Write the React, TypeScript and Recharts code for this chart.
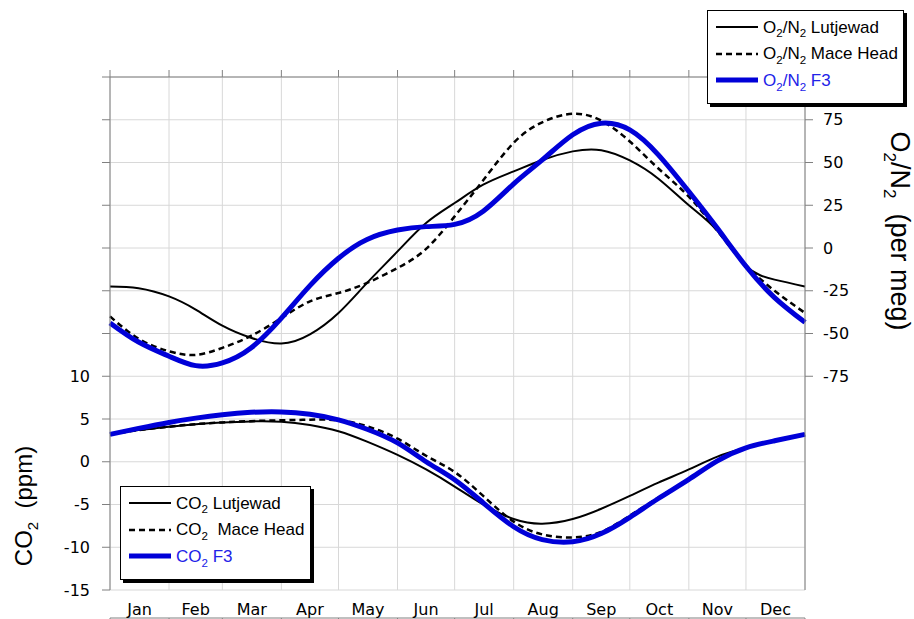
import { LineChart, Line, XAxis, YAxis, CartesianGrid, Legend } from 'recharts';

// day of year for each sample
const days = [0, 15, 31, 45, 59, 74, 90, 105, 120, 135, 151, 166, 181, 196, 212, 227, 243, 258, 273, 288, 304, 319, 334, 349, 365];

// O2/N2 seasonal cycles (per meg)
const o2Lutjewad = [-22.5, -23.5, -28.3, -36, -45.4, -52.5, -55.9, -50.5, -38, -20.4, -2, 14.6, 26.3, 37, 44.8, 51.5, 56.5, 57.2, 51.2, 40.5, 25, 10, -10.5, -18.5, -22.5];
const o2MaceHead = [-40, -53, -60.4, -62.5, -58.4, -51.4, -41, -31.2, -26.3, -20.4, -11.7, -0.5, 18.5, 39.6, 61.5, 73.5, 78.5, 74.5, 62.3, 46.5, 30, 10, -10, -25, -38];
const o2F3 = [-43.8, -55, -63.3, -68.8, -67.2, -58.5, -41, -22, -6, 5, 10.5, 12.5, 13.8, 21.5, 37.5, 51.5, 66.2, 73, 69.1, 54.5, 33, 11.5, -10.7, -29, -43.5];

// CO2 seasonal cycles (ppm)
const co2Lutjewad = [3.2, 3.7, 4.1, 4.4, 4.6, 4.72, 4.68, 4.3, 3.57, 2.35, 0.8, -0.9, -2.9, -5.0, -6.7, -7.25, -6.7, -5.5, -4.0, -2.45, -0.9, 0.6, 1.63, 2.45, 3.2];
const co2MaceHead = [3.2, 3.7, 4.1, 4.4, 4.6, 4.75, 4.85, 4.92, 4.85, 4.15, 2.7, 0.7, -1.2, -4.0, -7.0, -8.5, -8.85, -8.2, -6.3, -4.2, -2.0, 0.1, 1.63, 2.45, 3.2];
const co2F3 = [3.2, 3.9, 4.6, 5.1, 5.5, 5.78, 5.83, 5.55, 4.9, 3.8, 2.2, 0.0, -2.1, -4.8, -7.6, -9.1, -9.35, -8.4, -6.5, -4.3, -2.06, 0.1, 1.63, 2.45, 3.2];

const monthStarts = [0, 31, 59, 90, 120, 151, 181, 212, 243, 273, 304, 334, 365];
const monthNames = ['Jan', 'Feb', 'Mar', 'Apr', 'May', 'Jun', 'Jul', 'Aug', 'Sep', 'Oct', 'Nov', 'Dec'];
const co2Ticks = [-15, -10, -5, 0, 5, 10, 15, 20, 25, 30, 35, 40, 45];
const o2Ticks = [-75, -50, -25, 0, 25, 50, 75];

const monthMids = monthNames.map((_, i) => (monthStarts[i] + monthStarts[i + 1]) / 2);

const data = days.map((day, i) => ({
  day,
  o2Lutjewad: o2Lutjewad[i],
  o2MaceHead: o2MaceHead[i],
  o2F3: o2F3[i],
  co2Lutjewad: co2Lutjewad[i],
  co2MaceHead: co2MaceHead[i],
  co2F3: co2F3[i],
}));

const BLUE = '#0000d8';
const AXIS = '#808080';

const SERIES = [
  { key: 'o2Lutjewad', name: 'O2/N2 Lutjewad', axis: 'o2', color: '#000', width: 2, dash: undefined, text: '#000' },
  { key: 'o2MaceHead', name: 'O2/N2 Mace Head', axis: 'o2', color: '#000', width: 2.5, dash: '6 4', text: '#000' },
  { key: 'o2F3', name: 'O2/N2 F3', axis: 'o2', color: BLUE, width: 5, dash: undefined, text: '#2222e8' },
  { key: 'co2Lutjewad', name: 'CO2 Lutjewad', axis: 'co2', color: '#000', width: 2, dash: undefined, text: '#000' },
  { key: 'co2MaceHead', name: 'CO2  Mace Head', axis: 'co2', color: '#000', width: 2.5, dash: '6 4', text: '#000' },
  { key: 'co2F3', name: 'CO2 F3', axis: 'co2', color: BLUE, width: 5, dash: undefined, text: '#2222e8' },
];

// "O2", "N2", "CO2" -> subscript the 2
function withSubscripts(text: string) {
  const parts: any[] = [];
  for (let i = 0; i < text.length; i++) {
    const c = text[i];
    if (c === '2' && i > 0 && /[A-Z]/.test(text[i - 1])) {
      parts.push(
        <span key={i} style={{ fontSize: '0.68em', position: 'relative', top: '0.4em' }}>2</span>
      );
    } else {
      parts.push(c);
    }
  }
  return parts;
}

function LegendBox({ items, style }: { items: any[]; style: any }) {
  return (
    <div
      style={{
        position: 'absolute',
        background: '#fff',
        border: '1px solid #000',
        boxShadow: '3px 3px 0 #000',
        boxSizing: 'border-box',
        paddingTop: 3,
        fontFamily: '"Liberation Sans", Arial, sans-serif',
        fontSize: 17,
        ...style,
      }}
    >
      {items.map((s) => (
        <div key={s.key} style={{ display: 'flex', alignItems: 'center', height: 26.6 }}>
          <svg width={42} height={8} style={{ marginLeft: 8, marginRight: 5 }}>
            <line x1={0} y1={4} x2={42} y2={4} stroke={s.color} strokeWidth={s.width} strokeDasharray={s.dash} />
          </svg>
          <span style={{ color: s.text, whiteSpace: 'pre', lineHeight: 1 }}>{withSubscripts(s.name)}</span>
        </div>
      ))}
    </div>
  );
}

function Legends({ payload }: any) {
  const names = (payload ?? []).map((p: any) => p.value);
  const shown = SERIES.filter((s) => names.includes(s.name));
  return (
    <>
      <LegendBox items={shown.filter((s) => s.axis === 'o2')} style={{ left: 707, top: 10, width: 197, height: 94 }} />
      <LegendBox items={shown.filter((s) => s.axis === 'co2')} style={{ left: 120, top: 486, width: 191, height: 94 }} />
    </>
  );
}

function Co2Title({ viewBox }: any) {
  const x = viewBox.x - 18;
  const y = viewBox.y + viewBox.height - 84;
  return (
    <text
      transform={`translate(${x},${y}) rotate(-90)`}
      textAnchor="middle"
      fontFamily='"Liberation Sans", Arial, sans-serif'
      fontSize={24}
      fill="#000"
      style={{ whiteSpace: 'pre' }}
    >
      CO<tspan fontSize={15} dy={6}>2</tspan>
      <tspan dy={-6}>{'  (ppm)'}</tspan>
    </text>
  );
}

function O2Title({ viewBox }: any) {
  const x = viewBox.x + 86;
  const y = viewBox.y + 154;
  return (
    <text
      transform={`translate(${x},${y}) rotate(90)`}
      textAnchor="middle"
      fontFamily='"Liberation Sans", Arial, sans-serif'
      fontSize={27}
      fill="#000"
      style={{ whiteSpace: 'pre' }}
    >
      O<tspan fontSize={17} dy={7}>2</tspan>
      <tspan dy={-7}>/N</tspan>
      <tspan fontSize={17} dy={7}>2</tspan>
      <tspan dy={-7}>{'  (per meg)'}</tspan>
    </text>
  );
}

const tickFont = { fontSize: 16, fill: '#000', fontFamily: '"DejaVu Sans", sans-serif' };

export default function App() {
  return (
    <div style={{ position: 'absolute', left: 0, top: 0, width: 914, height: 619, background: '#fff' }}>
      <LineChart width={914} height={619} data={data} margin={{ top: 76, right: 49, bottom: 0, left: 50 }}>
        <CartesianGrid xAxisId="months" yAxisId="co2" stroke="#d8d8d8" />
        <XAxis
          xAxisId="months"
          dataKey="day"
          type="number"
          domain={[0, 365]}
          ticks={monthStarts}
          interval={0}
          height={1}
          tickSize={7}
          tickFormatter={() => ''}
          stroke={AXIS}
        />
        <XAxis
          xAxisId="labels"
          dataKey="day"
          type="number"
          domain={[0, 365]}
          ticks={monthMids}
          interval={0}
          height={28}
          tickSize={0}
          tickMargin={14}
          axisLine={false}
          tickLine={false}
          tick={tickFont}
          tickFormatter={(_v: number, i: number) => monthNames[i]}
        />
        <XAxis
          xAxisId="top"
          orientation="top"
          dataKey="day"
          type="number"
          domain={[0, 365]}
          ticks={monthStarts}
          interval={0}
          height={1}
          tickSize={7}
          tickFormatter={() => ''}
          stroke={AXIS}
        />
        <YAxis
          yAxisId="co2"
          orientation="left"
          width={60}
          domain={[-15, 45]}
          ticks={co2Ticks}
          interval={0}
          tickSize={8}
          tickMargin={12}
          stroke={AXIS}
          tick={tickFont}
          tickFormatter={(v: number) => (v <= 10 ? String(v) : '')}
          label={<Co2Title />}
        />
        <YAxis
          yAxisId="o2"
          orientation="right"
          width={60}
          domain={[-200, 100]}
          ticks={o2Ticks}
          interval={0}
          tickSize={8}
          tickMargin={10}
          stroke={AXIS}
          tick={tickFont}
          label={<O2Title />}
        />
        {SERIES.map((s) => (
          <Line
            key={s.key}
            xAxisId="months"
            yAxisId={s.axis}
            dataKey={s.key}
            name={s.name}
            type="natural"
            stroke={s.color}
            strokeWidth={s.width}
            strokeDasharray={s.dash}
            dot={false}
            activeDot={false}
            isAnimationActive={false}
          />
        ))}
        <Legend
          layout="horizontal"
          verticalAlign="middle"
          align="center"
          content={<Legends />}
          wrapperStyle={{ left: 0, top: 0, width: 914, height: 0 }}
        />
      </LineChart>
    </div>
  );
}
